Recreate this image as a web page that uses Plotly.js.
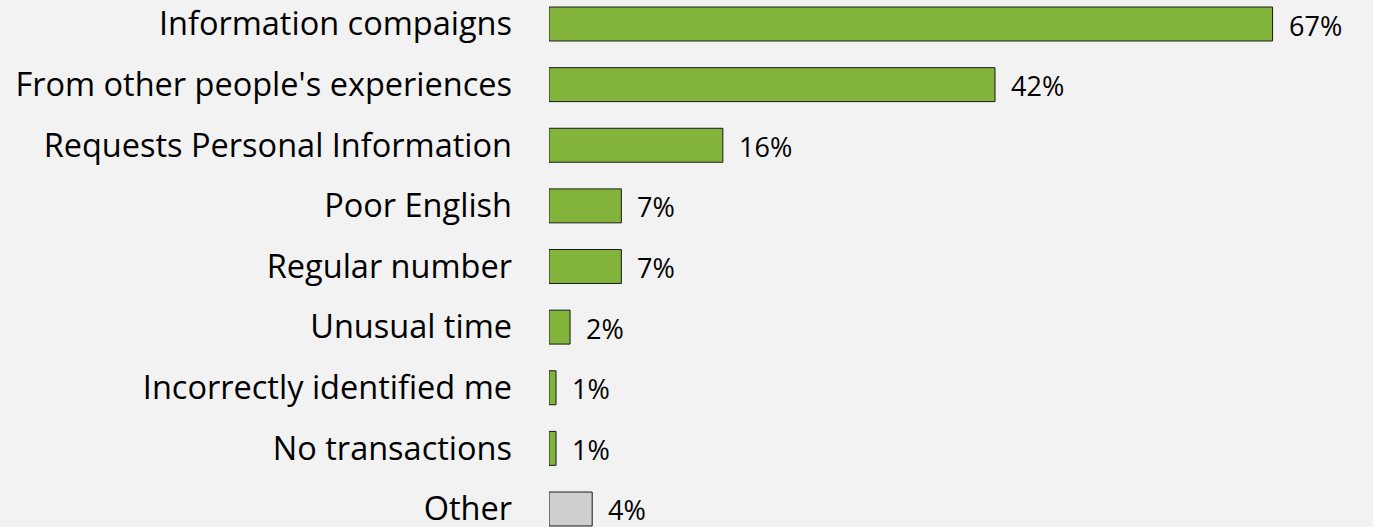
<!DOCTYPE html>
<html><head><meta charset="utf-8">
<script src="https://cdn.plot.ly/plotly-3.0.1.min.js"></script>
<style>html,body{margin:0;padding:0;background:#f2f2f2;}#chart{width:1373px;height:527px;}</style>
</head><body><div id="chart"></div>
<script>
const categories = ["Information compaigns","From other people's experiences","Requests Personal Information","Poor English","Regular number","Unusual time","Incorrectly identified me","No transactions","Other"];
const values = [67, 41.3, 16.1, 6.7, 6.7, 1.95, 0.65, 0.65, 4];
const valueLabels = ["67%","42%","16%","7%","7%","2%","1%","1%","4%"];
const barColors = ["#82b43c","#82b43c","#82b43c","#82b43c","#82b43c","#82b43c","#82b43c","#82b43c","#d0cece"];

const FONT = "Open Sans, sans-serif";
const trace = {
  type: 'bar', orientation: 'h', x: values, y: categories,
  marker: {color: barColors, line: {color: '#1a1a1a', width: 1}},
  hoverinfo: 'skip'
};
const annotations = categories.map((c, i) => ({
  x: values[i], y: c, xref: 'x', yref: 'y', text: valueLabels[i],
  showarrow: false, xanchor: 'left', yanchor: 'middle', xshift: 14, yshift: -1,
  font: {family: FONT, size: 27, color: '#000'}
}));
const layout = {
  width: 1373, height: 527,
  margin: {l: 549, r: 0, t: 0, b: 0},
  paper_bgcolor: '#f2f2f2', plot_bgcolor: '#f2f2f2',
  bargap: 0.44, showlegend: false,
  xaxis: {range: [0, 76.3], visible: false, fixedrange: true},
  yaxis: {range: [8.297, -0.396], showgrid: false, zeroline: false, showline: false,
          ticks: '', ticklabelstandoff: 36, tickfont: {family: FONT, size: 32.5, color: '#000'}},
  annotations: annotations
};
Plotly.newPlot('chart', [trace], layout, {staticPlot: true, displayModeBar: false});
</script></body></html>
